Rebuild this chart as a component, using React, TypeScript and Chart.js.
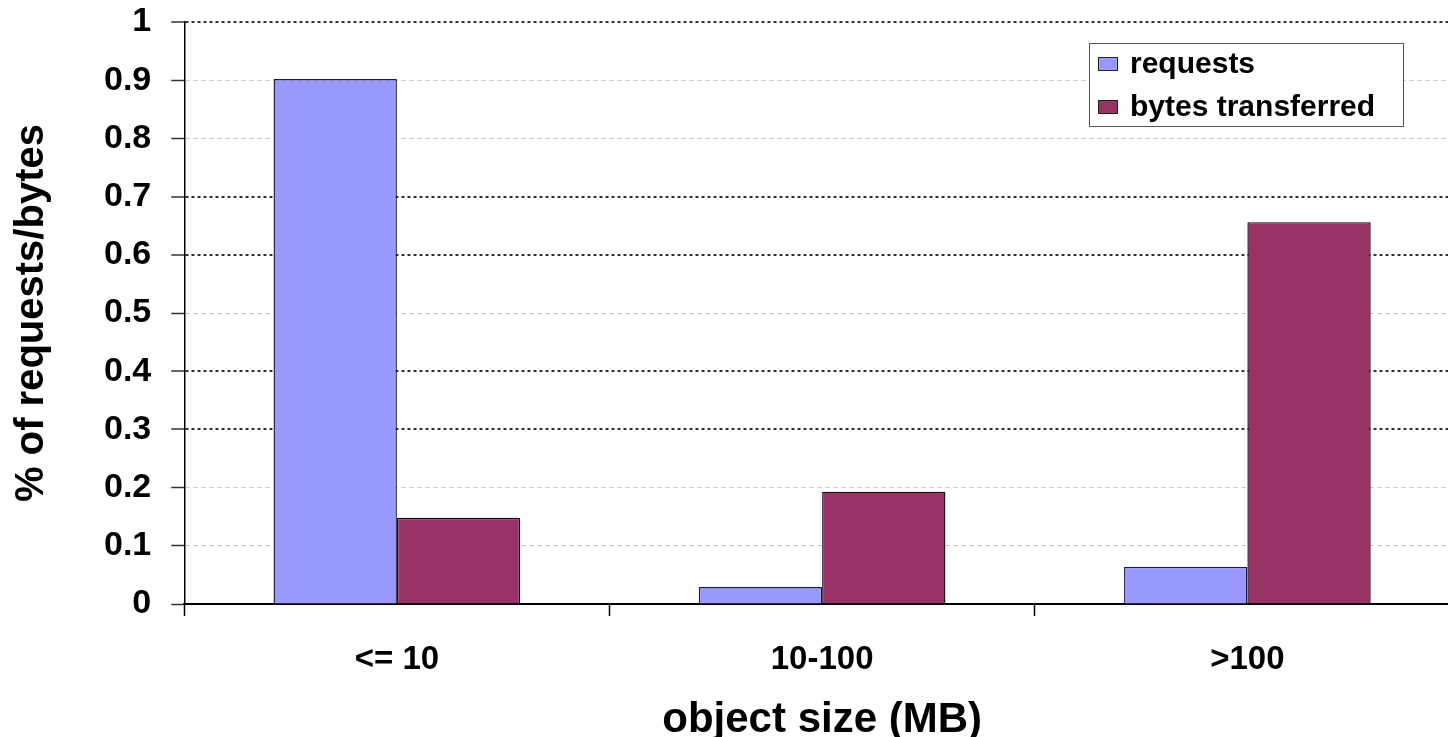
import React, { useEffect, useRef } from "react";
import { Chart, registerables } from "chart.js";

Chart.register(...registerables);

const categories = ["<= 10", "10-100", ">100"];
const seriesNames = ["requests", "bytes transferred"];
const requestsValues = [0.902, 0.029, 0.064];
const bytesValues = [0.148, 0.193, 0.656];
const yTickLabels = ["0", "0.1", "0.2", "0.3", "0.4", "0.5", "0.6", "0.7", "0.8", "0.9", "1"];

const FONT = "'Liberation Sans', Arial, Helvetica, sans-serif";
const COLORS = ["#9999FF", "#993366"];
const DARK_GRID_TICKS = ["1", "0.7", "0.6", "0.4", "0.3"];

const boxLegend = {
  id: "boxLegend",
  afterDraw(chart: any) {
    const ctx = chart.ctx as CanvasRenderingContext2D;
    const bx = 1089;
    const by = 43;
    const bw = 314;
    const bh = 83;
    ctx.save();
    ctx.fillStyle = "#ffffff";
    ctx.fillRect(bx, by, bw, bh);
    ctx.strokeStyle = "#555555";
    ctx.lineWidth = 1;
    ctx.strokeRect(bx + 0.5, by + 0.5, bw, bh);
    ctx.font = `bold 30px ${FONT}`;
    ctx.textBaseline = "middle";
    chart.data.datasets.forEach((ds: any, i: number) => {
      const cy = by + 21 + i * 43;
      ctx.fillStyle = ds.backgroundColor;
      ctx.fillRect(bx + 9, cy - 7, 20, 14);
      ctx.strokeStyle = "#222";
      ctx.lineWidth = 1;
      ctx.strokeRect(bx + 9.5, cy - 6.5, 19, 13);
      ctx.fillStyle = "#000";
      ctx.fillText(ds.label, bx + 41, cy + 1);
    });
    ctx.restore();
  },
};

export default function App() {
  const canvasRef = useRef<HTMLCanvasElement | null>(null);

  useEffect(() => {
    document.body.style.margin = "0";
    const canvas = canvasRef.current;
    if (!canvas) return;
    const chart = new Chart(canvas, {
      type: "bar",
      data: {
        labels: categories,
        datasets: [
          {
            label: seriesNames[0],
            data: requestsValues,
            backgroundColor: COLORS[0],
            borderColor: "#1a1a40",
            borderWidth: 1.4,
            categoryPercentage: 0.58,
            barPercentage: 1.0,
          },
          {
            label: seriesNames[1],
            data: bytesValues,
            backgroundColor: COLORS[1],
            borderColor: "#1a0a10",
            borderWidth: 1.4,
            categoryPercentage: 0.58,
            barPercentage: 1.0,
          },
        ],
      },
      options: {
        animation: false,
        responsive: true,
        maintainAspectRatio: false,
        layout: { padding: { top: 0, right: 0, left: 8, bottom: -9 } },
        plugins: {
          legend: { display: false },
          tooltip: { enabled: false },
        },
        scales: {
          x: {
            grid: {
              offset: true,
              drawOnChartArea: false,
              drawTicks: true,
              tickLength: 12,
              tickColor: "#000",
              tickWidth: 1.5,
            },
            border: { display: true, color: "#000", width: 2 },
            ticks: {
              color: "#000",
              padding: 24,
              font: { family: FONT, size: 33, weight: "bold" },
            },
            title: {
              display: true,
              text: "object size (MB)",
              color: "#000",
              padding: { top: -8, bottom: 0 },
              font: { family: FONT, size: 42, weight: "bold" },
            },
          },
          y: {
            min: 0,
            max: 1,
            afterFit: (scale: any) => {
              scale.paddingTop = 22;
              scale.paddingBottom = 20;
            },
            ticks: {
              stepSize: 0.1,
              color: "#000",
              padding: 20,
              font: { family: FONT, size: 34, weight: "bold" },
              callback: (_v: any, i: number) => yTickLabels[i],
            },
            grid: {
              drawTicks: true,
              tickLength: 13,
              tickColor: "#333",
              tickWidth: 1.5,
              color: (ctx: any) => {
                const lbl = yTickLabels[ctx.index];
                if (lbl === "0") return "rgba(0,0,0,0)";
                return DARK_GRID_TICKS.includes(lbl) ? "#333333" : "#c4c4c4";
              },
              lineWidth: (ctx: any) => {
                const lbl = yTickLabels[ctx.index];
                return DARK_GRID_TICKS.includes(lbl) ? 2 : 1;
              },
            },
            border: {
              display: true,
              color: "#000",
              width: 1.5,
              dash: (ctx: any) => {
                const lbl = yTickLabels[ctx.index];
                return DARK_GRID_TICKS.includes(lbl) ? [3, 3] : [4, 4];
              },
            },
            title: {
              display: true,
              text: "% of requests/bytes",
              color: "#000",
              padding: { top: 0, bottom: 28 },
              font: { family: FONT, size: 40, weight: "bold" },
            },
          },
        },
      },
      plugins: [boxLegend],
    } as any);
    return () => chart.destroy();
  }, []);

  return (
    <div style={{ width: "1448px", height: "737px", overflow: "hidden" }}>
      <div style={{ width: "1460px", height: "737px", position: "relative" }}>
        <canvas ref={canvasRef} />
      </div>
    </div>
  );
}
